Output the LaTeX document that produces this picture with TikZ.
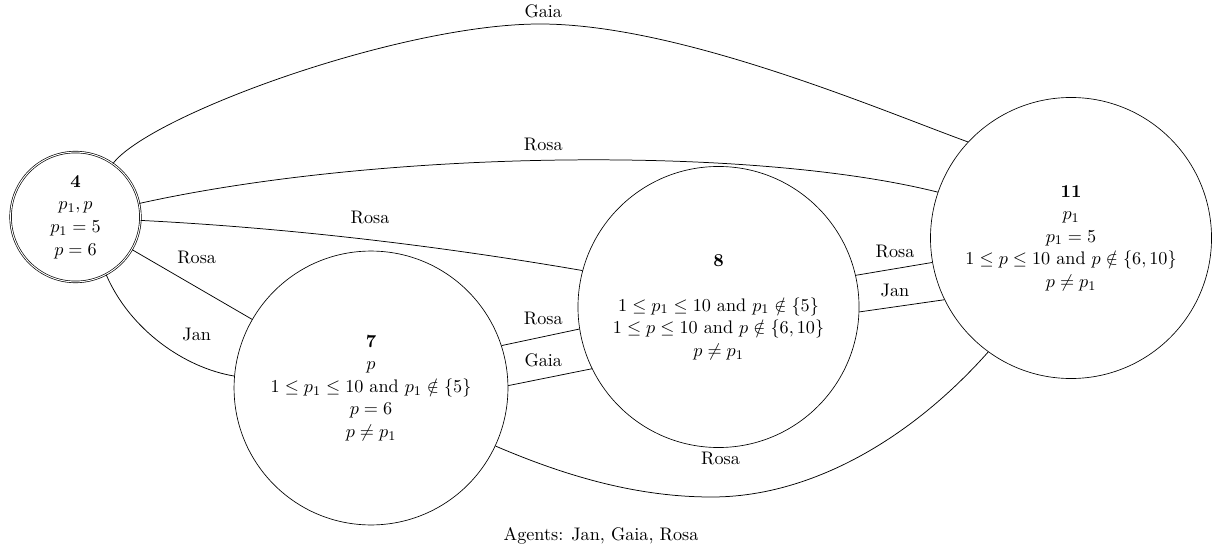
\documentclass[tikz,border=0pt]{standalone}
\begin{document}
\begin{tikzpicture}[x=0.6024pt, y=-0.6024pt,
  font=\fontsize{10.95}{13.6}\selectfont,
  state/.style={circle, draw, align=center, inner sep=0pt},
  dstate/.style={state, double, double distance=0.6pt},
  lbl/.style={inner sep=1pt},
  conn/.style={draw, line width=0.45pt}]
\useasboundingbox (0,0) rectangle (1218,548);

% states
\node[dstate, minimum size=78.2pt] (n4) at (75.5,217)
  {\textbf{4}\\$p_1, p$\\$p_1 = 5$\\$p = 6$};
\node[state, minimum size=165pt] (n7) at (371,388)
  {\textbf{7}\\$p$\\$1 \leq p_1 \leq 10$ and $p_1 \notin \{5\}$\\$p = 6$\\$p \neq p_1$};
\node[state, minimum size=169.3pt] (n8) at (718.5,307)
  {\textbf{8}\\\mbox{}\\$1 \leq p_1 \leq 10$ and $p_1 \notin \{5\}$\\$1 \leq p \leq 10$ and $p \notin \{6, 10\}$\\$p \neq p_1$};
\node[state, minimum size=169.3pt] (n11) at (1071,238)
  {\textbf{11}\\$p_1$\\$p_1 = 5$\\$1 \leq p \leq 10$ and $p \notin \{6, 10\}$\\$p \neq p_1$};

% helper coordinates
\coordinate (gtop) at (540,24);
\coordinate (rbot) at (711.8,497);

% connectors
\draw[conn] (n4.55) .. controls (150,115) and (400,24) .. (gtop)
  .. controls (680,24) and (880,110) .. (n11.137);
\draw[conn] (n4.12) .. controls (380,150) and (750,145) .. (n11.161);
\draw[conn] (n4.357) .. controls (290,228) and (440,246) .. (n8.165);
\draw[conn] (n4.330) -- (n7.150);
\draw[conn] (n4.298) .. controls (130,330) and (185,368) .. (n7.175);
\draw[conn] (n7.18) -- (n8.189);
\draw[conn] (n7.1) -- (n8.206);
\draw[conn] (n8.13) -- (n11.190);
\draw[conn] (n8.358) -- (n11.206);
\draw[conn] (n7.335) .. controls (570,478) and (640,497) .. (rbot)
  .. controls (810,497) and (910,440) .. (n11.234);

% labels
\node[lbl] (lg1) at (543.3,11.7) {Gaia};
\node[lbl] (lr1) at (543.3,144) {Rosa};
\node[lbl] (lr2) at (370,217.3) {Rosa};
\node[lbl] (lr3) at (196.7,257.3) {Rosa};
\node[lbl] (lj1) at (196.7,334) {Jan};
\node[lbl] (lr4) at (543.3,318.3) {Rosa};
\node[lbl] (lg2) at (543.3,360) {Gaia};
\node[lbl] (lr5) at (895,251.7) {Rosa};
\node[lbl] (lj2) at (895,290) {Jan};
\node[lbl] (lr6) at (720.5,458.9) {Rosa};
\node[lbl] (agents) at (601,536) {Agents: Jan, Gaia, Rosa};
\end{tikzpicture}
\end{document}
